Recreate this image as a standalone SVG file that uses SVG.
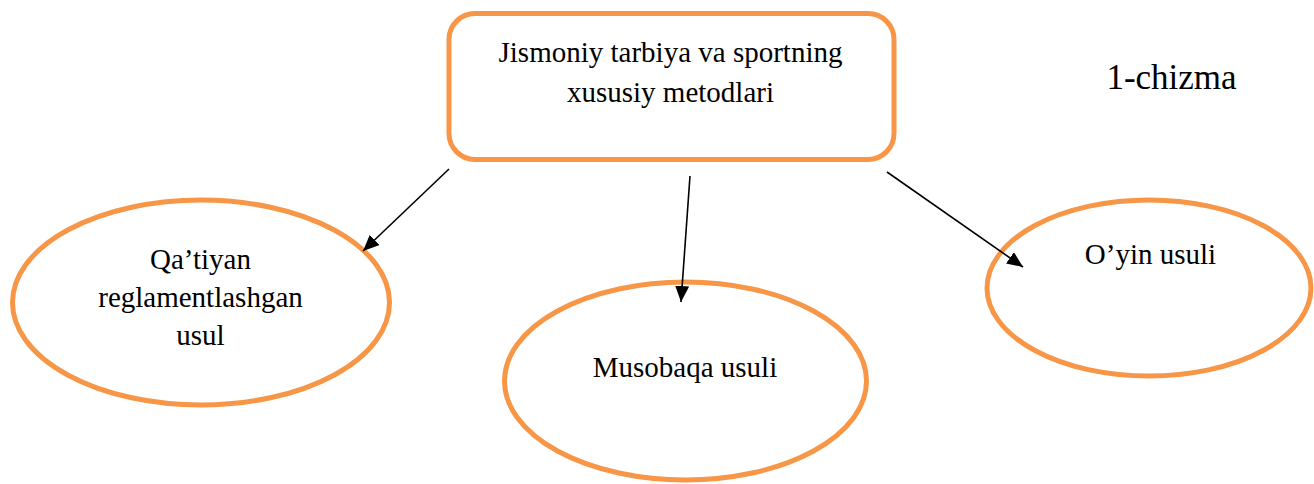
<svg xmlns="http://www.w3.org/2000/svg" width="1314" height="484" viewBox="0 0 1314 484">
<style>
.shape{fill:#fff;stroke:#F79646;stroke-width:5}
.lbl{font-family:"Liberation Serif","Times New Roman",serif;font-size:29px;fill:#000;text-anchor:middle}
.conn{stroke:#000;stroke-width:1.6;fill:none;marker-end:url(#ah)}
</style>
<defs>
<marker id="ah" markerUnits="userSpaceOnUse" markerWidth="18" markerHeight="14" refX="16" refY="7" orient="auto">
<path d="M0,0 L16,7 L0,14 Z" fill="#000"/>
</marker>
</defs>
<rect width="1314" height="484" fill="#fff"/>
<g id="root">
<rect class="shape" x="449" y="13.5" width="445" height="146" rx="26" ry="26"/>
<text class="lbl" x="670.5" y="62">Jismoniy tarbiya va sportning</text>
<text class="lbl" x="670.5" y="102">xususiy metodlari</text>
</g>
<g id="n1">
<ellipse class="shape" cx="201" cy="302.5" rx="188.5" ry="102.5"/>
<text class="lbl" x="200.5" y="269">Qa’tiyan</text>
<text class="lbl" x="200.5" y="307">reglamentlashgan</text>
<text class="lbl" x="200.5" y="345">usul</text>
</g>
<g id="n2">
<ellipse class="shape" cx="685.5" cy="381" rx="181" ry="99"/>
<text class="lbl" x="685" y="377">Musobaqa usuli</text>
</g>
<g id="n3">
<ellipse class="shape" cx="1149" cy="288" rx="162" ry="88"/>
<text class="lbl" x="1150.5" y="264">O’yin usuli</text>
</g>
<g id="title">
<text class="lbl" style="font-size:35px" x="1171.5" y="89">1-chizma</text>
</g>
<g id="connectors">
<line class="conn" x1="449" y1="169" x2="363" y2="251"/>
<line class="conn" x1="690" y1="176" x2="681" y2="302"/>
<line class="conn" x1="887" y1="172" x2="1023" y2="267"/>
</g>
</svg>
